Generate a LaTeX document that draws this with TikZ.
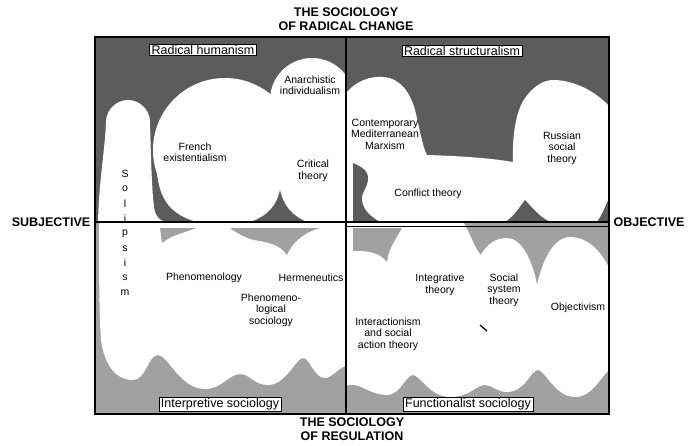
\documentclass[tikz,border=0pt]{standalone}
\usepackage{fontspec}
\setmainfont{Liberation Sans}
\usepackage{tikz}
\tikzset{lbl/.style = {align = center, inner sep = 0, font = \fontsize{10.5}{11.5}\selectfont}}
\tikzset{tag/.style = {draw, fill = white, line width = 0.6pt, inner xsep = 2pt, inner ysep = 1pt, font = \fontsize{12.5}{14}\selectfont}}
\tikzset{axis/.style = {align = center, inner sep = 0, font = \fontsize{12.5}{14}\selectfont\bfseries}}
\definecolor{dgray}{gray}{0.36}
\definecolor{lgray}{gray}{0.63}

\begin{document}
\begin{tikzpicture}[x=1pt, y=-1pt]
      \useasboundingbox (0, 0) rectangle (700, 445);

      \begin{scope}
        \clip (95, 37) rectangle (346, 222);
        \fill [dgray] (95, 37) rectangle (346, 222);
        \fill [white] (98, 222) .. controls (99, 180) and (105, 150) .. (106, 122) .. controls (106, 110) and (116, 100) .. (128, 100) .. controls (140, 100) and (150, 110) .. (150, 122) .. controls (151, 160) and (152, 200) .. (155, 212) .. controls (157, 218) and (161, 221) .. (166, 222) -- cycle;
        \fill [white] (225, 150) circle [radius = 72];
        \fill [white] (156, 150) .. controls (156, 190) and (162, 212) .. (197, 222) -- (225, 222) -- (225, 150) -- cycle;
        \fill [white] (312, 100) circle [radius = 42];
        \fill [white] (222, 110) rectangle (346, 222);
        \fill [dgray] (250, 222) .. controls (268, 216) and (277, 205) .. (280, 190) .. controls (283, 205) and (292, 216) .. (307, 222) -- cycle;
      \end{scope}

      \begin{scope}
        \clip (346, 37) rectangle (609, 222);
        \fill [dgray] (346, 37) rectangle (609, 222);
        \fill [white] (346, 93) .. controls (356, 81) and (370, 76) .. (383, 77) .. controls (400, 78) and (410, 92) .. (415, 110) .. controls (420, 130) and (422, 145) .. (427, 155) .. controls (460, 156) and (490, 158) .. (513, 162) .. controls (512, 140) and (515, 112) .. (525, 98) .. controls (533, 87) and (543, 80) .. (553, 80) .. controls (575, 80) and (596, 92) .. (609, 106) -- (609, 222) -- (346, 222) -- cycle;
        \fill [dgray] (353, 163) .. controls (360, 166) and (368, 170) .. (368, 178) .. controls (368, 188) and (361, 192) .. (362, 200) .. controls (363, 210) and (370, 216) .. (380, 222) -- (353, 222) -- cycle;
        \fill [dgray] (505, 222) .. controls (515, 216) and (520, 206) .. (525, 200) .. controls (531, 206) and (538, 216) .. (550, 222) -- cycle;
        \fill [dgray] (609, 198) .. controls (605, 207) and (602, 215) .. (597, 222) -- (609, 222) -- cycle;
      \end{scope}

      \begin{scope}
        \clip (95, 222) rectangle (346, 414);
        \fill [lgray] (95, 222) rectangle (346, 414);
        \fill [white] (99, 222) -- (346, 222) -- (346, 366) .. controls (338, 368) and (332, 378) .. (325, 378) .. controls (314, 378) and (310, 358) .. (303, 358) .. controls (296, 358) and (286, 385) .. (268, 385) .. controls (254, 385) and (250, 374) .. (240, 374) .. controls (229, 374) and (222, 389) .. (205, 389) .. controls (180, 389) and (168, 355) .. (158, 355) .. controls (148, 355) and (146, 380) .. (133, 380) .. controls (114, 380) and (104, 362) .. (101, 340) .. controls (99, 315) and (99, 260) .. (99, 222) -- cycle;
        \fill [lgray] (160, 228) -- (197, 228) .. controls (185, 232) and (170, 236) .. (162, 243) -- cycle;
        \fill [lgray] (230, 228) .. controls (238, 234) and (246, 238) .. (254, 240) .. controls (266, 242) and (280, 244) .. (287, 255) .. controls (292, 242) and (305, 232) .. (320, 228) -- cycle;
      \end{scope}

      \begin{scope}
        \clip (346, 222) rectangle (609, 414);
        \fill [lgray] (346, 222) rectangle (609, 414);
        \fill [white] (346, 222) -- (463, 222) .. controls (470, 232) and (474, 248) .. (481, 255) .. controls (486, 245) and (495, 238) .. (507, 238) .. controls (522, 238) and (533, 262) .. (537, 285) .. controls (542, 262) and (553, 237) .. (570, 237) .. controls (590, 237) and (603, 255) .. (609, 268) -- (609, 370) .. controls (600, 378) and (592, 397) .. (575, 397) .. controls (555, 397) and (545, 370) .. (538, 370) .. controls (531, 370) and (525, 392) .. (507, 392) .. controls (497, 392) and (492, 385) .. (485, 385) .. controls (476, 385) and (470, 397) .. (450, 397) .. controls (430, 397) and (420, 375) .. (413, 375) .. controls (406, 375) and (400, 395) .. (387, 395) .. controls (372, 395) and (362, 385) .. (353, 385) -- (346, 385) -- cycle;
        \fill [lgray] (353, 228) -- (402, 228) .. controls (395, 240) and (388, 250) .. (387, 262) .. controls (381, 254) and (370, 250) .. (353, 251) -- cycle;
        \draw [line width = 1.3pt] (480, 325) -- (487, 331);
      \end{scope}

      \draw [line width = 1.2pt] (95, 37) rectangle (609, 414);
      \draw [line width = 1.2pt] (95, 222) -- (609, 222);
      \draw [line width = 0.8pt] (346, 226) -- (609, 226);
      \draw [line width = 1.2pt] (346, 37) -- (346, 414);

      \node [axis] (change) at (346, 19) {THE SOCIOLOGY\\OF RADICAL CHANGE};
      \node [axis] (regul) at (352, 429) {THE SOCIOLOGY\\OF REGULATION};
      \node [axis] (subj) at (51, 222.5) {SUBJECTIVE};
      \node [axis] (obj) at (649, 222.5) {OBJECTIVE};

      \node [tag] (radhum) at (203, 50) {Radical humanism};
      \node [tag] (radstr) at (462, 51) {Radical structuralism};
      \node [tag] (interp) at (220, 404) {Interpretive sociology};
      \node [tag] (funct) at (468, 404) {Functionalist sociology};

      \node [lbl] (anarch) at (310, 85) {Anarchistic\\individualism};
      \node [lbl] (french) at (195, 152) {French\\existentialism};
      \node [lbl] (critical) at (313, 171) {Critical\\theory};
      \node [lbl] (marx) at (385, 134) {Contemporary\\Mediterranean\\Marxism};
      \node [lbl] (russian) at (562, 148) {Russian\\social\\theory};
      \node [lbl] (conflict) at (428, 194) {Conflict theory};
      \node [lbl] (phen) at (204, 278) {Phenomenology};
      \node [lbl] (herm) at (311, 278) {Hermeneutics};
      \node [lbl] (phensoc) at (271, 310) {Phenomeno-\\logical\\sociology};
      \node [lbl] (integ) at (440, 285) {Integrative\\theory};
      \node [lbl] (sst) at (504, 290) {Social\\system\\theory};
      \node [lbl] (objv) at (578, 308) {Objectivism};
      \node [lbl] (interact) at (388, 334) {Interactionism\\and social\\action theory};

      \foreach \ch [count = \i] in {S, o, l, i, p, s, i, s, m}
        \node [lbl] (sol\i) at (125, 159.5 + 14.8 * \i) {\ch};
    \end{tikzpicture}
\end{document}
